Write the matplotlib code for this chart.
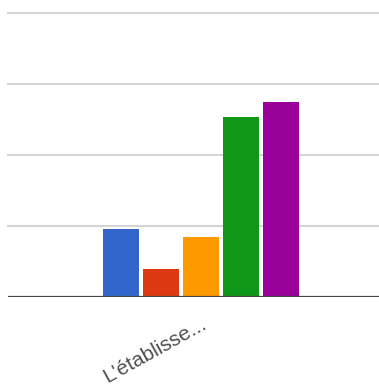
import numpy as np
import matplotlib.pyplot as plt

categorie = ["L'établisse..."]
series = ['A', 'B', 'C', 'D', 'E']
valeurs = [48, 20, 42, 127, 137]
couleurs = ['#3366cc', '#dc3912', '#ff9900', '#109618', '#990099']
graduations = [0, 50, 100, 150, 200]

fig = plt.figure(figsize=(3.79, 3.91), dpi=100)
ax = fig.add_axes([8 / 379, 94 / 391, 371 / 379, 287 / 391])

n = len(series)
pas = 1.0
for i, (v, c) in enumerate(zip(valeurs, couleurs)):
    x = (i - (n - 1) / 2) * pas
    ax.bar(x, v, width=pas * 0.92, color=c, zorder=3)

ax.set_xlim(-4.825, 4.45)
ax.set_ylim(0, 202)

# lignes de grille horizontales
for g in graduations[1:]:
    ax.axhline(g, color='#d4d4d4', lw=1.5, zorder=1, clip_on=False)
ax.axhline(0, color='#444444', lw=1.6, zorder=4)

for s in ax.spines.values():
    s.set_visible(False)
ax.set_yticks([])
ax.set_xticks([0])
ax.set_xticklabels(categorie, rotation=29, ha='right', rotation_mode='anchor',
                   fontsize=15, color='#505050', family='Liberation Sans')
ax.tick_params(axis='x', length=0, pad=12)

plt.savefig('out.png', dpi=100)
